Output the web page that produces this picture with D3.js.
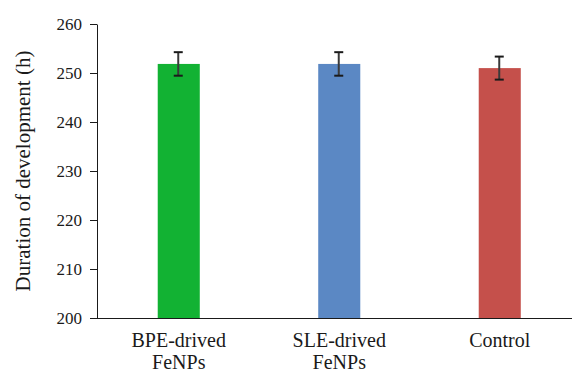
<!DOCTYPE html>
<html>
<head>
<meta charset="utf-8">
<script src="https://cdn.jsdelivr.net/npm/d3@7"></script>
<style>
  html, body { margin: 0; padding: 0; background: #fff; }
  svg { display: block; }
  text { font-family: "Liberation Serif", "DejaVu Serif", serif; fill: #1a1a1a; }
</style>
</head>
<body>
<svg id="chart" width="572" height="372"></svg>
<script>
// Development duration per treatment group (mean ± error)
const categories = [["BPE-drived", "FeNPs"], ["SLE-drived", "FeNPs"], ["Control"]];
const means = [251.85, 251.85, 251.0];
const errors = [2.4, 2.4, 2.35];
const colors = ["#12b233", "#5b88c4", "#c5504b"];
const yTicks = [200, 210, 220, 230, 240, 250, 260];

const width = 572, height = 372;
const margin = { top: 24, left: 97, bottom: 54 };
const plotBottom = height - margin.bottom;

const svg = d3.select("#chart");

const keys = categories.map(c => c.join(" "));
const x = d3.scaleBand()
  .domain(keys)
  .range([98.5, 98.5 + 3 * 160.5])
  .paddingInner(0.738)
  .paddingOuter(0.369);

const y = d3.scaleLinear()
  .domain([200, 260])
  .range([plotBottom, margin.top]);

// Bars
svg.append("g")
  .selectAll("rect")
  .data(keys)
  .join("rect")
  .attr("x", d => x(d))
  .attr("width", x.bandwidth())
  .attr("y", (d, i) => y(means[i]))
  .attr("height", (d, i) => y(200) - y(means[i]))
  .attr("fill", (d, i) => colors[i]);

// Error bars
const eb = svg.append("g");
keys.forEach((k, i) => {
  const cx = x(k) + x.bandwidth() / 2 - 0.5;
  const hi = y(means[i] + errors[i]);
  const lo = y(means[i] - errors[i]);
  eb.append("line")
    .attr("x1", cx).attr("x2", cx)
    .attr("y1", hi).attr("y2", lo)
    .attr("stroke", "#3a3a3a").attr("stroke-width", 2);
  [hi, lo].forEach(v => {
    eb.append("line")
      .attr("x1", cx - 4.5).attr("x2", cx + 4.5)
      .attr("y1", v).attr("y2", v)
      .attr("stroke", "#1a1a1a").attr("stroke-width", 2);
  });
});

// Y axis
const yAxis = svg.append("g")
  .attr("transform", `translate(${margin.left},0)`)
  .call(d3.axisLeft(y).tickValues(yTicks).tickSize(7).tickPadding(8).tickSizeOuter(0));
yAxis.select(".domain").attr("stroke", "#1a1a1a");
yAxis.selectAll(".tick line").attr("stroke", "#1a1a1a");
yAxis.selectAll(".tick text")
  .style("font-family", "'Liberation Serif', serif")
  .style("font-size", "17px")
  .attr("fill", "#1a1a1a");

// X axis baseline
svg.append("line")
  .attr("x1", margin.left - 7).attr("x2", width)
  .attr("y1", plotBottom + 0.5).attr("y2", plotBottom + 0.5)
  .attr("stroke", "#1a1a1a");

// Category labels
const xl = svg.append("g");
categories.forEach((lines, i) => {
  const cx = x(keys[i]) + x.bandwidth() / 2;
  const t = xl.append("text")
    .attr("text-anchor", "middle")
    .attr("font-size", "20px")
    .attr("x", cx)
    .attr("y", 347);
  lines.forEach((ln, j) => {
    t.append("tspan").attr("x", cx).attr("dy", j === 0 ? 0 : 22).text(ln);
  });
});

// Y axis title
svg.append("text")
  .attr("transform", `translate(30,${(margin.top + plotBottom) / 2}) rotate(-90)`)
  .attr("text-anchor", "middle")
  .attr("font-size", "21px")
  .text("Duration of development (h)");
</script>
</body>
</html>
